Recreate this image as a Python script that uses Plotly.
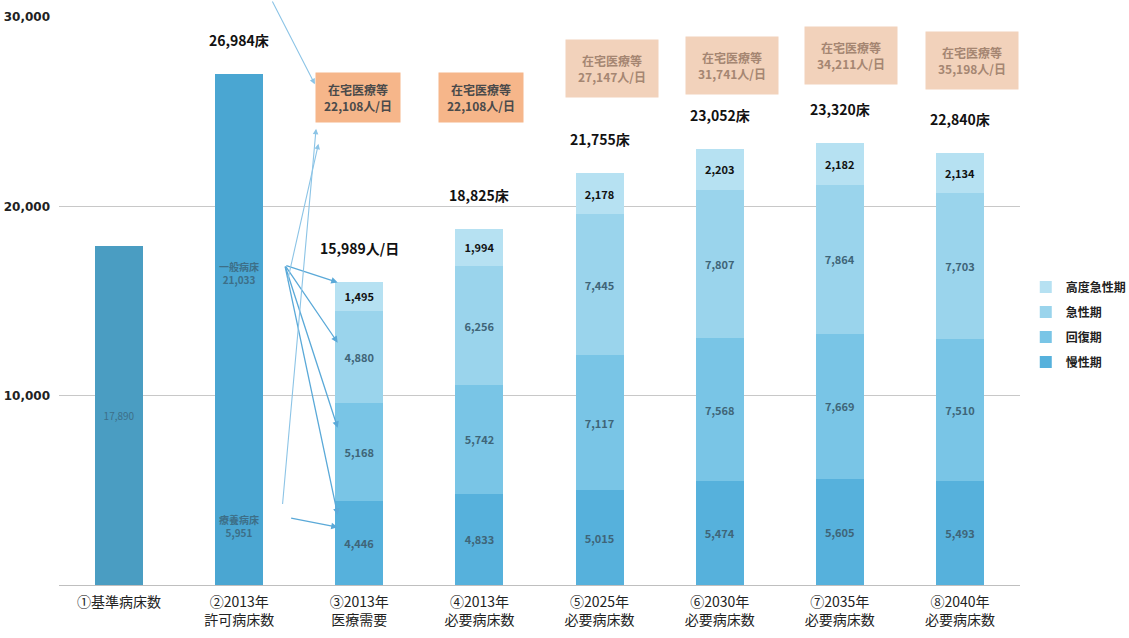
import plotly.graph_objects as go

categories = ["①基準病床数", "②2013年<br>許可病床数", "③2013年<br>医療需要", "④2013年<br>必要病床数",
              "⑤2025年<br>必要病床数", "⑥2030年<br>必要病床数", "⑦2035年<br>必要病床数", "⑧2040年<br>必要病床数"]
stack_cats = categories[2:]

base_beds = 17890
permit_general = 21033
permit_ryoyo = 5951

chronic = [4446, 4833, 5015, 5474, 5605, 5493]     # 慢性期
recovery = [5168, 5742, 7117, 7568, 7669, 7510]    # 回復期
acute = [4880, 6256, 7445, 7807, 7864, 7703]       # 急性期
high_acute = [1495, 1994, 2178, 2203, 2182, 2134]  # 高度急性期

total_labels = ["26,984床", "15,989人/日", "18,825床", "21,755床", "23,052床", "23,320床", "22,840床"]
home_care = ["在宅医療等<br>22,108人/日", "在宅医療等<br>22,108人/日",
             "在宅医療等<br>27,147人/日", "在宅医療等<br>31,741人/日",
             "在宅医療等<br>34,211人/日", "在宅医療等<br>35,198人/日"]

FONT = "Noto Sans CJK JP"
W = 0.40
fig = go.Figure()

fig.add_trace(go.Bar(x=[categories[0]], y=[base_beds], width=W, marker_color="#4a9dc2",
                     marker_line_width=0,
                     text=[f"{base_beds:,}"], textposition="inside", insidetextanchor="middle",
                     textfont=dict(size=10, color="#3d6f88"), showlegend=False))
fig.add_trace(go.Bar(x=[categories[1]], y=[permit_ryoyo], width=W, marker_color="#4aa6d2",
                     marker_line_width=0, showlegend=False))
fig.add_trace(go.Bar(x=[categories[1]], y=[permit_general], width=W, marker_color="#4aa6d2",
                     marker_line_width=0, showlegend=False))

series = [("慢性期", chronic, "#56b1dc", "#3f6578"),
          ("回復期", recovery, "#79c5e6", "#3f6578"),
          ("急性期", acute, "#9ad4ec", "#3f6578"),
          ("高度急性期", high_acute, "#b6e1f2", "#111111")]
for k, (name, vals, col, tcol) in enumerate(series):
    fig.add_trace(go.Bar(x=stack_cats, y=vals, name=f"<b>{name}</b>", legendgroup=name,
                         legendrank=10 - k, width=W,
                         marker_color=col, marker_line_width=0,
                         text=[f"<b>{v:,}</b>" for v in vals], textposition="inside",
                         insidetextanchor="middle",
                         textfont=dict(size=11, color=tcol, family=FONT), constraintext="none"))

totals = [permit_ryoyo + permit_general] + [a + b + c + d for a, b, c, d in zip(chronic, recovery, acute, high_acute)]
for i, (t, lab) in enumerate(zip(totals, total_labels)):
    fig.add_annotation(x=i + 1, y=t, text=f"<b>{lab}</b>", showarrow=False, yanchor="bottom", yshift=22,
                       font=dict(size=14, color="#111111", family=FONT))

# labels inside permit bar
fig.add_annotation(x=1, y=16500, text=f"<b>一般病床<br>{permit_general:,}</b>", showarrow=False,
                   font=dict(size=10, color="#3d6f88", family=FONT))
fig.add_annotation(x=1, y=3100, text=f"<b>療養病床<br>{permit_ryoyo:,}</b>", showarrow=False,
                   font=dict(size=10, color="#3d6f88", family=FONT))

# home care boxes
box_x = [1.99, 3.01, 4.10, 5.10, 6.09, 7.10]
box_y = [25770, 25770, 27300, 27460, 27990, 27720]
for i, (bx, by, txt) in enumerate(zip(box_x, box_y, home_care)):
    faded = i >= 2
    fig.add_annotation(x=bx, y=by, text=f"<b>{txt}</b>", showarrow=False,
                       bgcolor="#f2d2bb" if faded else "#f6b68a",
                       font=dict(size=12, color="#a58672" if faded else "#4a4a4a", family=FONT),
                       borderpad=12 if faded else 8)

# arrows from permit bar to demand bar
arrow_col = "#5aa9d8"
starts_general = (1.38, 16900)
for ty in [15980, 12800, 8300, 3700]:
    fig.add_annotation(x=1.82, y=ty, ax=starts_general[0], ay=starts_general[1], axref="x", ayref="y",
                       xref="x", yref="y", showarrow=True, arrowhead=2, arrowsize=1, arrowwidth=1.3,
                       arrowcolor=arrow_col, text="")
fig.add_annotation(x=1.82, y=3050, ax=1.42, ay=3550, axref="x", ayref="y", showarrow=True,
                   arrowhead=2, arrowwidth=1.3, arrowcolor=arrow_col, text="")
fig.add_annotation(x=1.63, y=26450, ax=1.27, ay=30900, axref="x", ayref="y", showarrow=True,
                   arrowhead=2, arrowwidth=1.1, arrowcolor="#8cc4e6", text="")
fig.add_annotation(x=1.64, y=24100, ax=1.36, ay=4200, axref="x", ayref="y", showarrow=True,
                   arrowhead=2, arrowwidth=1.1, arrowcolor="#8cc4e6", text="")
fig.add_annotation(x=1.66, y=23300, ax=1.40, ay=16000, axref="x", ayref="y", showarrow=True,
                   arrowhead=2, arrowwidth=1.1, arrowcolor="#8cc4e6", text="")

fig.update_layout(
    width=1129, height=638, barmode="stack", bargap=0.6,
    paper_bgcolor="white", plot_bgcolor="white",
    margin=dict(l=59, r=109, t=17, b=53, autoexpand=False),
    font=dict(family=FONT, color="#222222"),
    legend=dict(x=1.006, y=0.55, xanchor="left", yanchor="top", traceorder="grouped",
                font=dict(size=12, color="#222222", family=FONT), itemwidth=30, tracegroupgap=6),
    showlegend=True,
)
fig.update_xaxes(type="category", tickfont=dict(size=14, color="#222222", family=FONT),
                 showline=True, linecolor="#bfbfbf", ticks="", range=[-0.5, 7.5], ticklabelstandoff=4,
                 automargin=False)
fig.update_yaxes(range=[0, 30000], tickvals=[0, 10000, 20000, 30000],
                 ticktext=["", "<b>10,000</b>", "<b>20,000</b>", "<b>30,000</b>"],
                 tickfont=dict(size=12, color="#222222", family="DejaVu Sans"),
                 showgrid=True, gridcolor="#c8c8c8", gridwidth=1, zeroline=False, ticklabelstandoff=8,
                 automargin=False)

fig.write_html("out.html")
